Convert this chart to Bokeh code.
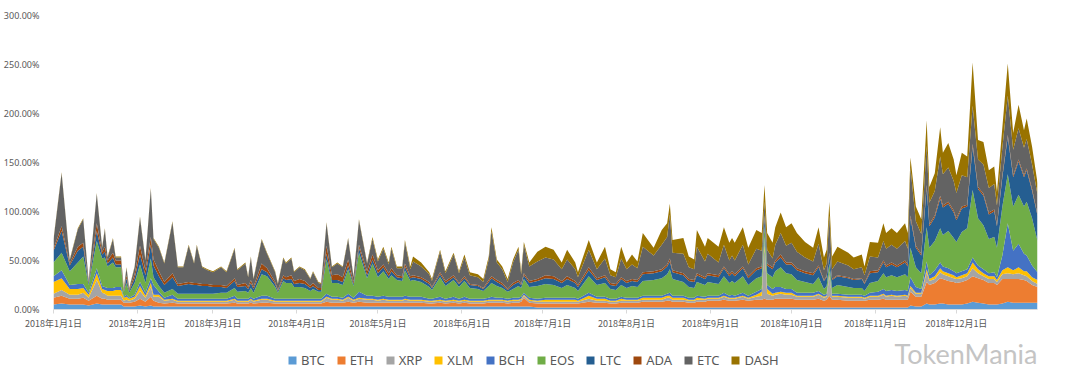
from bokeh.plotting import figure
from bokeh.layouts import column
from bokeh.models import (ColumnDataSource, Range1d, FixedTicker, NumeralTickFormatter,
                          Legend, LegendItem, Label)
from bokeh.embed import file_html
from bokeh.resources import INLINE

# ---- data (values in percent, day offset from 2018-01-01) ----
days = [0, 3, 6, 9, 11, 13, 16, 18, 19, 20,
        22, 23, 25, 26, 27, 28, 30, 32, 34, 36,
        37, 39, 41, 44, 46, 48, 50, 52, 53, 55,
        57, 59, 62, 64, 67, 68, 71, 72, 73, 74,
        77, 79, 82, 83, 85, 86, 88, 89, 91, 93,
        95, 96, 98, 99, 101, 103, 105, 107, 109, 111,
        113, 116, 118, 120, 122, 124, 125, 127, 129, 130,
        132, 133, 136, 139, 140, 143, 145, 148, 150, 152,
        154, 157, 159, 161, 162, 164, 166, 168, 170, 172,
        173, 174, 176, 179, 182, 185, 188, 190, 193, 194,
        198, 201, 204, 206, 208, 210, 212, 214, 216, 218,
        222, 225, 227, 228, 229, 233, 235, 237, 238, 241,
        242, 246, 248, 250, 251, 252, 255, 257, 260, 262,
        263, 264, 266, 267, 269, 271, 273, 275, 278, 281,
        283, 285, 286, 287, 288, 290, 294, 296, 299, 300,
        302, 305, 307, 308, 310, 312, 315, 316, 317, 319,
        321, 323, 324, 326, 328, 329, 331, 333, 334, 336,
        338, 340, 342, 344, 346, 348, 349, 351, 353, 355,
        357, 359, 360, 362, 364]

btc = [5, 6, 5, 5, 5, 4, 6, 5, 5, 5,
       5, 5, 5, 3, 3, 3, 3, 4, 3, 4,
       3, 3, 3, 3, 3, 3, 3, 3, 3, 3,
       3, 3, 3, 3, 3, 3, 3, 3, 3, 3,
       3, 3, 3, 3, 3, 3, 3, 3, 3, 3,
       3, 3, 3, 3, 3, 3, 3, 3, 3, 3,
       3, 3, 3, 3, 3, 3, 3, 3, 3, 3,
       3, 3, 3, 3, 3, 3, 3, 3, 3, 3,
       3, 3, 3, 3, 3, 3, 3, 3, 3, 3,
       3, 3, 3, 2, 2, 2, 2, 2, 2, 2,
       2, 2, 2, 2, 2, 2, 2, 2, 2, 2,
       2, 2, 2, 2, 2, 2, 2, 2, 2, 2,
       2, 2, 2, 2, 2, 2, 2, 2, 2, 2,
       2, 2, 2, 2, 2, 2, 2, 2, 2, 2,
       2, 2, 2, 2, 2, 2, 2, 2, 2, 2,
       2, 2, 2, 2, 2, 2, 2, 2, 4, 3,
       3, 6, 5, 5, 6, 6, 5, 5, 5, 5,
       6, 8, 7, 6, 5, 5, 5, 6, 8, 7,
       7, 7, 7, 7, 7]

eth = [7, 8, 6, 6, 7, 5, 8, 6, 6, 5,
       5, 5, 5, 4, 4, 4, 5, 7, 5, 9,
       6, 4, 3, 4, 3, 3, 3, 3, 3, 3,
       3, 3, 3, 3, 4, 3, 3, 3, 4, 3,
       4, 4, 3, 3, 3, 3, 3, 3, 3, 3,
       3, 3, 3, 3, 5, 4, 4, 4, 5, 4,
       5, 4, 4, 4, 4, 4, 4, 4, 4, 4,
       4, 4, 4, 3, 3, 4, 3, 4, 3, 4,
       3, 3, 3, 4, 4, 4, 4, 3, 4, 4,
       5, 9, 4, 4, 4, 4, 4, 4, 4, 4,
       6, 5, 5, 4, 4, 5, 5, 5, 5, 6,
       6, 6, 7, 7, 6, 6, 5, 5, 6, 6,
       7, 7, 8, 7, 7, 7, 8, 7, 8, 8,
       9, 8, 8, 9, 9, 9, 9, 8, 8, 8,
       9, 7, 8, 12, 8, 8, 7, 7, 7, 7,
       8, 8, 9, 8, 8, 8, 8, 8, 14, 10,
       10, 22, 20, 22, 26, 25, 24, 23, 22, 23,
       24, 26, 25, 24, 22, 22, 20, 25, 23, 24,
       24, 23, 22, 18, 16]

xrp = [4, 6, 4, 4, 5, 3, 16, 6, 5, 4,
       4, 4, 4, 2, 3, 2, 3, 8, 4, 10,
       4, 6, 3, 3, 2, 2, 2, 2, 2, 2,
       2, 2, 2, 2, 3, 2, 2, 2, 3, 2,
       3, 3, 2, 2, 2, 2, 2, 2, 2, 2,
       2, 2, 2, 2, 4, 3, 3, 2, 4, 2,
       3, 3, 3, 2, 3, 2, 2, 2, 2, 3,
       2, 2, 2, 2, 2, 2, 2, 2, 2, 2,
       2, 2, 2, 2, 2, 2, 2, 2, 2, 2,
       2, 2, 2, 2, 2, 2, 2, 2, 2, 2,
       3, 2, 2, 2, 2, 2, 2, 2, 2, 2,
       2, 2, 3, 3, 2, 2, 2, 2, 2, 2,
       2, 2, 3, 2, 2, 2, 3, 2, 3, 4,
       55, 6, 4, 4, 5, 4, 4, 3, 3, 3,
       4, 3, 3, 20, 3, 3, 3, 3, 3, 2,
       3, 3, 4, 3, 4, 3, 4, 3, 4, 3,
       3, 10, 4, 4, 6, 5, 5, 4, 4, 4,
       4, 8, 5, 4, 4, 4, 3, 5, 6, 5,
       6, 5, 5, 4, 3]

xlm = [12, 12, 6, 6, 5, 3, 7, 4, 4, 5,
       5, 6, 6, 3, 3, 2, 2, 5, 2, 4,
       2, 2, 1, 1, 1, 1, 1, 1, 1, 1,
       1, 1, 1, 1, 1, 1, 1, 1, 1, 1,
       1, 1, 1, 1, 1, 1, 1, 1, 1, 1,
       1, 1, 1, 1, 1, 1, 1, 1, 1, 1,
       1, 1, 1, 1, 1, 1, 1, 1, 1, 1,
       1, 1, 1, 1, 1, 1, 1, 1, 1, 1,
       1, 1, 1, 1, 1, 1, 1, 1, 1, 1,
       1, 1, 1, 1, 2, 2, 2, 2, 2, 1,
       3, 2, 2, 1, 1, 2, 1, 1, 1, 2,
       2, 2, 2, 2, 2, 2, 1, 1, 2, 1,
       1, 1, 1, 1, 1, 1, 1, 1, 2, 4,
       4, 5, 2, 2, 2, 2, 2, 1, 1, 1,
       1, 1, 1, 2, 1, 1, 1, 1, 1, 1,
       1, 1, 1, 1, 1, 1, 1, 1, 2, 1,
       1, 3, 2, 3, 4, 3, 3, 3, 2, 3,
       3, 6, 4, 3, 3, 3, 2, 4, 6, 4,
       6, 4, 5, 4, 4]

bch = [6, 8, 4, 5, 4, 2, 5, 3, 3, 3,
       3, 3, 3, 1, 2, 1, 2, 4, 3, 5,
       10, 3, 2, 4, 2, 2, 2, 2, 2, 2,
       2, 2, 2, 2, 3, 2, 2, 2, 2, 2,
       3, 3, 2, 2, 2, 2, 2, 2, 2, 2,
       2, 2, 2, 2, 3, 2, 2, 2, 3, 2,
       6, 3, 3, 3, 3, 3, 3, 3, 3, 3,
       3, 3, 3, 2, 2, 3, 2, 3, 2, 3,
       2, 2, 2, 2, 3, 2, 2, 2, 2, 2,
       2, 2, 2, 2, 2, 2, 2, 2, 2, 2,
       3, 2, 2, 2, 2, 2, 2, 2, 2, 2,
       2, 2, 2, 3, 2, 2, 2, 2, 2, 2,
       2, 2, 3, 2, 3, 2, 3, 2, 3, 3,
       4, 4, 5, 6, 5, 4, 4, 3, 3, 3,
       3, 2, 2, 3, 2, 2, 2, 2, 2, 2,
       3, 4, 5, 5, 5, 5, 5, 5, 9, 6,
       4, 8, 4, 6, 6, 5, 5, 4, 4, 4,
       4, 5, 4, 4, 3, 4, 3, 15, 45, 20,
       24, 18, 16, 12, 8]

eos = [14, 18, 14, 22, 28, 8, 28, 28, 30, 22,
       26, 20, 20, 5, 12, 5, 12, 18, 10, 20,
       8, 6, 5, 6, 5, 5, 5, 5, 5, 5,
       5, 5, 6, 6, 8, 7, 8, 6, 9, 6,
       22, 20, 12, 6, 18, 16, 16, 12, 12, 11,
       8, 10, 7, 7, 35, 14, 14, 13, 25, 12,
       40, 18, 33, 20, 25, 18, 22, 17, 16, 26,
       16, 17, 15, 12, 9, 20, 13, 17, 12, 16,
       11, 10, 8, 12, 14, 12, 10, 7, 9, 12,
       9, 14, 11, 13, 14, 13, 10, 13, 10, 8,
       17, 12, 14, 10, 9, 12, 10, 12, 11, 15,
       16, 18, 20, 24, 17, 14, 11, 10, 14, 12,
       14, 12, 17, 13, 14, 13, 17, 11, 14, 13,
       12, 12, 12, 16, 20, 16, 15, 13, 11, 9,
       14, 6, 8, 8, 6, 9, 8, 7, 7, 5,
       10, 11, 16, 14, 15, 14, 16, 14, 30, 20,
       16, 35, 28, 30, 35, 32, 38, 34, 32, 40,
       42, 69, 48, 45, 35, 36, 30, 50, 50, 45,
       50, 48, 55, 48, 32]

ltc = [12, 22, 6, 12, 10, 2, 10, 4, 6, 3,
       5, 3, 3, 1, 5, 2, 5, 10, 8, 14,
       12, 10, 8, 12, 8, 9, 10, 9, 9, 8,
       8, 7, 6, 5, 7, 5, 5, 4, 5, 4,
       5, 4, 3, 2, 3, 3, 4, 3, 4, 4,
       3, 3, 2, 2, 6, 3, 3, 3, 4, 2,
       5, 3, 4, 4, 4, 3, 4, 3, 3, 4,
       3, 3, 3, 3, 2, 3, 3, 3, 3, 3,
       3, 3, 2, 4, 5, 4, 3, 2, 4, 4,
       3, 4, 4, 5, 6, 6, 5, 6, 5, 4,
       6, 5, 6, 4, 4, 6, 5, 5, 5, 7,
       7, 7, 8, 8, 7, 7, 6, 6, 7, 6,
       7, 7, 8, 7, 8, 7, 8, 7, 8, 8,
       8, 8, 8, 9, 10, 9, 10, 10, 9, 9,
       10, 8, 9, 9, 8, 9, 9, 8, 9, 7,
       10, 9, 11, 10, 11, 10, 12, 11, 30, 20,
       18, 40, 22, 24, 30, 28, 28, 26, 22, 24,
       22, 44, 30, 30, 25, 26, 22, 30, 38, 30,
       34, 30, 32, 28, 26]

ada = [2, 5, 2, 4, 4, 1, 8, 3, 5, 3,
       5, 4, 4, 1, 3, 1, 4, 9, 5, 8,
       6, 5, 3, 4, 2, 2, 2, 2, 2, 2,
       2, 2, 2, 2, 3, 2, 3, 2, 3, 2,
       6, 4, 2, 1, 3, 3, 4, 3, 4, 3,
       2, 3, 2, 2, 8, 5, 6, 5, 6, 2,
       3, 4, 5, 3, 3, 3, 3, 2, 2, 3,
       2, 2, 2, 2, 1, 2, 2, 2, 1, 2,
       1, 1, 1, 2, 2, 2, 2, 1, 2, 2,
       1, 2, 2, 2, 3, 3, 2, 3, 2, 2,
       3, 2, 2, 2, 2, 2, 2, 2, 2, 2,
       2, 2, 2, 3, 2, 2, 2, 2, 2, 2,
       2, 2, 2, 2, 2, 2, 2, 2, 2, 2,
       2, 2, 2, 2, 3, 2, 2, 2, 2, 2,
       2, 1, 1, 2, 1, 1, 1, 1, 1, 1,
       2, 2, 2, 2, 2, 2, 2, 2, 3, 2,
       2, 3, 2, 2, 3, 2, 2, 2, 2, 2,
       2, 3, 2, 2, 2, 2, 1, 2, 2, 2,
       2, 2, 2, 2, 1]

etc = [9, 54, 3, 18, 24, 1, 30, 4, 18, 3,
       14, 3, 3, 1, 7, 1, 7, 29, 10, 49,
       21, 24, 19, 52, 17, 16, 37, 20, 38, 17,
       14, 13, 18, 14, 30, 15, 20, 10, 23, 8,
       24, 15, 10, 6, 17, 14, 17, 9, 12, 11,
       7, 11, 5, 4, 23, 8, 11, 10, 21, 5,
       25, 8, 16, 9, 16, 9, 20, 7, 8, 22,
       7, 14, 11, 8, 6, 21, 8, 21, 10, 19,
       9, 8, 6, 21, 46, 18, 14, 7, 21, 31,
       10, 29, 15, 18, 18, 17, 12, 17, 12, 8,
       18, 9, 17, 8, 7, 19, 12, 15, 12, 26,
       16, 25, 28, 45, 18, 20, 12, 11, 27, 16,
       20, 13, 22, 14, 16, 14, 22, 12, 20, 16,
       14, 14, 9, 16, 22, 17, 20, 17, 14, 12,
       22, 10, 13, 38, 10, 14, 12, 10, 11, 8,
       15, 13, 20, 17, 18, 17, 20, 16, 49, 25,
       20, 40, 22, 25, 40, 32, 35, 30, 26, 32,
       28, 39, 28, 30, 25, 26, 20, 28, 40, 26,
       32, 28, 30, 25, 20]

dash = [1, 1, 1, 1, 1, 1, 1, 1, 1, 1,
        1, 1, 1, 1, 1, 1, 1, 1, 1, 1,
        1, 1, 1, 1, 1, 1, 1, 1, 1, 1,
        1, 1, 1, 1, 1, 1, 1, 1, 1, 1,
        1, 1, 1, 1, 1, 1, 1, 1, 1, 1,
        1, 1, 1, 1, 1, 1, 1, 1, 1, 1,
        1, 1, 2, 2, 2, 2, 2, 2, 2, 2,
        3, 5, 4, 2, 2, 2, 2, 2, 2, 3,
        3, 3, 3, 3, 4, 3, 3, 3, 3, 3,
        3, 3, 4, 10, 11, 10, 7, 10, 7, 5,
        10, 7, 12, 6, 5, 12, 7, 10, 7, 14,
        8, 15, 14, 11, 13, 16, 11, 10, 17, 15,
        16, 16, 18, 18, 18, 18, 18, 17, 19, 18,
        17, 17, 16, 18, 21, 19, 20, 19, 16, 14,
        17, 13, 14, 14, 13, 15, 13, 12, 13, 9,
        15, 15, 18, 16, 17, 16, 18, 16, 10, 15,
        15, 26, 16, 18, 30, 22, 25, 22, 18, 23,
        21, 44, 20, 23, 18, 18, 14, 21, 33, 17,
        24, 18, 21, 18, 12]

series_names = ["BTC", "ETH", "XRP", "XLM", "BCH", "EOS", "LTC", "ADA", "ETC", "DASH"]
series_values = [btc, eth, xrp, xlm, bch, eos, ltc, ada, etc, dash]
colors = ["#5B9BD5", "#ED7D31", "#A5A5A5", "#FFC000", "#4472C4",
          "#70AD47", "#255E91", "#9E480E", "#636363", "#997300"]

month_days = [0, 31, 59, 90, 120, 151, 181, 212, 243, 273, 304, 334]
month_labels = ["2018年%d月1日" % m for m in range(1, 13)]
y_ticks = [0, 0.5, 1.0, 1.5, 2.0, 2.5, 3.0]

# ---- main chart ----
data = {"day": days}
for name, vals in zip(series_names, series_values):
    data[name] = [v / 100.0 for v in vals]
source = ColumnDataSource(data)

p = figure(width=1080, height=332, output_backend="svg", toolbar_location=None,
           x_range=Range1d(0, 364), y_range=Range1d(0, 3.0),
           min_border_left=52, min_border_right=43, min_border_top=15, min_border_bottom=22,
           background_fill_color="white", border_fill_color="white",
           outline_line_color=None)
p.grid.visible = False

p.varea_stack(stackers=series_names, x="day", color=colors, source=source)

xa = p.xaxis[0]
xa.ticker = FixedTicker(ticks=month_days)
xa.major_label_overrides = {d: lab for d, lab in zip(month_days, month_labels)}
xa.axis_line_color = "#d9d9d9"
xa.major_tick_line_color = "#d9d9d9"
xa.major_tick_out = 4
xa.major_tick_in = 0
xa.minor_tick_line_color = None
xa.major_label_text_font = "Noto Sans CJK SC"
xa.major_label_text_font_size = "9px"
xa.major_label_text_color = "#595959"
xa.major_label_standoff = 3

ya = p.yaxis[0]
ya.ticker = FixedTicker(ticks=y_ticks)
ya.formatter = NumeralTickFormatter(format="0.00%")
ya.axis_line_color = None
ya.major_tick_line_color = None
ya.minor_tick_line_color = None
ya.major_label_text_font = "Noto Sans"
ya.major_label_text_font_size = "9px"
ya.major_label_text_color = "#595959"
ya.major_label_standoff = 8

# ---- legend strip (same stacked series, kept out of view; only the legend shows) ----
p2 = figure(width=1080, height=48, output_backend="svg", toolbar_location=None,
            x_range=Range1d(1000, 1001), y_range=Range1d(0, 1),
            x_axis_location=None, y_axis_location=None, min_border=0,
            background_fill_color="white", border_fill_color="white",
            outline_line_color=None)
p2.grid.visible = False
legend_renderers = p2.varea_stack(stackers=series_names, x="day", color=colors, source=source)
legend = Legend(items=[LegendItem(label=n, renderers=[r])
                       for n, r in zip(series_names, legend_renderers)],
                orientation="horizontal", location=(234, 11),
                border_line_color=None, background_fill_alpha=0,
                label_text_font="Noto Sans", label_text_font_size="13px",
                label_text_color="#595959",
                glyph_width=10, glyph_height=10, spacing=11, label_standoff=4,
                padding=6, margin=0)
p2.add_layout(legend, "center")

wm = Label(x=841, y=27, x_units="screen", y_units="screen", text="TokenMania",
           text_font="Lato", text_font_size="27px", text_color="#c4c4c4",
           text_baseline="alphabetic")
p2.add_layout(wm)

open("out.html", "w").write(file_html(column(p, p2), INLINE))
